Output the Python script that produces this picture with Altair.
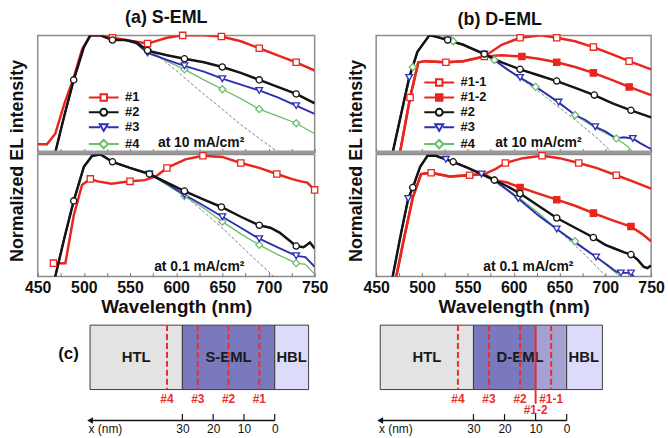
import altair as alt
import pandas as pd

FONT = "Liberation Sans"

# ---------------- (a) S-EML, 10 mA/cm2 ----------------
sa10_1_wl = [450, 460, 469, 479, 489, 498, 507, 518, 531, 545, 569, 590, 607, 630, 649, 670, 690, 710, 730, 750]
sa10_1_v = [0.07, 0.07, 0.16, 0.42, 0.64, 0.88, 1.0, 1.0, 0.98, 0.96, 0.93, 0.98, 1.0, 1.0, 0.99, 0.95, 0.89, 0.83, 0.77, 0.70]
sa10_1_mk = [531, 569, 607, 649, 690, 730]

sa10_2_wl = [460, 469, 479, 489, 500, 507, 518, 531, 545, 557, 569, 590, 609, 630, 650, 670, 690, 710, 730, 750]
sa10_2_v = [-0.3, 0.0, 0.32, 0.62, 0.90, 1.0, 1.0, 0.96, 0.96, 0.94, 0.87, 0.83, 0.80, 0.77, 0.73, 0.68, 0.62, 0.56, 0.50, 0.42]
sa10_2_mk = [489, 531, 569, 609, 650, 690, 730]

sa10_3_wl = [460, 469, 479, 489, 500, 507, 518, 531, 545, 557, 569, 590, 609, 630, 650, 670, 690, 710, 730, 750]
sa10_3_v = [-0.3, 0.0, 0.32, 0.62, 0.90, 1.0, 1.0, 0.97, 0.96, 0.93, 0.85, 0.79, 0.74, 0.69, 0.63, 0.58, 0.53, 0.47, 0.40, 0.33]
sa10_3_mk = [569, 609, 650, 690, 730]

sa10_4_wl = [460, 469, 479, 489, 500, 507, 518, 531, 545, 557, 569, 590, 609, 630, 650, 670, 690, 710, 730, 750]
sa10_4_v = [-0.3, 0.0, 0.32, 0.62, 0.90, 1.0, 1.0, 0.97, 0.96, 0.94, 0.88, 0.78, 0.71, 0.62, 0.54, 0.46, 0.37, 0.31, 0.25, 0.16]
sa10_4_mk = [569, 609, 650, 690, 730]

sa10_sim_wl = [569, 579, 600, 625, 650, 668, 690, 711, 720]
sa10_sim_v = [0.87, 0.83, 0.70, 0.53, 0.37, 0.25, 0.12, 0.0, -0.06]

# ---------------- (a) S-EML, 0.1 mA/cm2 ----------------
sa01_1_wl = [467, 480, 489, 498, 507, 515, 530, 550, 566, 578, 590, 610, 629, 650, 670, 690, 709, 725, 735, 742, 750]
sa01_1_v = [0.11, 0.11, 0.50, 0.75, 0.80, 0.78, 0.76, 0.78, 0.79, 0.82, 0.89, 0.96, 0.99, 0.98, 0.93, 0.89, 0.84, 0.80, 0.78, 0.77, 0.71]
sa01_1_mk = [467, 507, 550, 590, 629, 670, 709, 750]

sa01_2_wl = [460, 469, 479, 489, 500, 509, 518, 531, 550, 571, 590, 609, 630, 649, 670, 690, 702, 712, 730, 738, 745, 750]
sa01_2_v = [-0.3, 0.0, 0.32, 0.62, 0.90, 0.99, 1.0, 0.94, 0.89, 0.84, 0.77, 0.70, 0.63, 0.57, 0.49, 0.42, 0.40, 0.36, 0.25, 0.24, 0.28, 0.23]
sa01_2_mk = [489, 531, 571, 609, 649, 690, 730]

sa01_3_wl = [460, 469, 479, 489, 500, 509, 518, 531, 550, 571, 590, 609, 630, 650, 670, 690, 710, 730, 740, 750]
sa01_3_v = [-0.3, 0.0, 0.32, 0.62, 0.90, 0.99, 1.0, 0.94, 0.89, 0.84, 0.76, 0.67, 0.58, 0.49, 0.40, 0.31, 0.24, 0.17, 0.16, 0.08]
sa01_3_mk = [571, 609, 650, 690, 730]

sa01_4_wl = [460, 469, 479, 489, 500, 509, 518, 531, 550, 571, 590, 609, 630, 650, 670, 690, 710, 730, 740, 750]
sa01_4_v = [-0.3, 0.0, 0.32, 0.62, 0.90, 0.99, 1.0, 0.94, 0.89, 0.84, 0.75, 0.66, 0.56, 0.45, 0.35, 0.26, 0.18, 0.11, 0.10, 0.02]
sa01_4_mk = [571, 609, 650, 690, 730]

sa01_sim_wl = [571, 590, 611, 630, 654, 680, 703, 710]
sa01_sim_v = [0.84, 0.75, 0.65, 0.53, 0.37, 0.18, 0.02, -0.04]

# ---------------- (b) D-EML, 10 mA/cm2 ----------------
db10_11_wl = [466, 476, 487, 496, 504, 526, 545, 568, 587, 607, 630, 647, 667, 687, 707, 726, 750]
db10_11_v = [-0.3, 0.0, 0.47, 0.77, 0.78, 0.77, 0.78, 0.82, 0.92, 0.98, 1.0, 0.98, 0.95, 0.90, 0.84, 0.78, 0.71]
db10_11_mk = [487, 526, 568, 607, 647, 687, 726]

db10_12_wl = [466, 476, 487, 496, 504, 526, 545, 568, 587, 609, 627, 647, 667, 687, 707, 726, 750]
db10_12_v = [-0.3, 0.0, 0.47, 0.77, 0.78, 0.77, 0.78, 0.82, 0.83, 0.82, 0.80, 0.77, 0.73, 0.68, 0.62, 0.56, 0.49]
db10_12_mk = [609, 647, 687, 726]

db10_2_wl = [460, 468, 477, 486, 495, 508, 515, 528, 545, 568, 587, 607, 627, 647, 668, 688, 708, 728, 750]
db10_2_v = [-0.35, 0.0, 0.32, 0.64, 0.86, 1.0, 0.99, 0.96, 0.92, 0.84, 0.77, 0.71, 0.66, 0.61, 0.55, 0.49, 0.42, 0.36, 0.30]
db10_2_mk = [528, 568, 607, 647, 688, 728]

db10_3_wl = [460, 468, 477, 486, 495, 508, 515, 528, 545, 568, 579, 593, 607, 624, 636, 649, 667, 678, 689, 700, 712, 720, 730, 738, 745, 750]
db10_3_v = [-0.35, 0.0, 0.32, 0.64, 0.86, 1.0, 0.99, 0.96, 0.92, 0.84, 0.79, 0.71, 0.64, 0.56, 0.50, 0.43, 0.32, 0.28, 0.22, 0.18, 0.12, 0.13, 0.12, 0.08, 0.05, 0.03]
db10_3_mk = [486, 528, 568, 607, 649, 689, 730]

db10_4_wl = [460, 468, 477, 490, 495, 508, 515, 534, 545, 568, 579, 607, 624, 649, 667, 689, 712, 725, 735]
db10_4_v = [-0.35, 0.0, 0.32, 0.73, 0.86, 1.0, 0.99, 0.95, 0.92, 0.84, 0.79, 0.63, 0.56, 0.42, 0.32, 0.21, 0.12, 0.05, -0.05]
db10_4_mk = [490, 534, 579, 624, 667, 712]

db10_sim_wl = [568, 600, 624, 647, 670, 690, 705, 712]
db10_sim_v = [0.84, 0.67, 0.54, 0.40, 0.26, 0.13, 0.02, -0.04]

# ---------------- (b) D-EML, 0.1 mA/cm2 ----------------
db01_11_wl = [466, 472, 480, 490, 499, 510, 530, 552, 568, 580, 591, 610, 631, 650, 671, 690, 712, 730, 750]
db01_11_v = [-0.3, 0.0, 0.30, 0.65, 0.84, 0.85, 0.82, 0.83, 0.84, 0.88, 0.93, 0.97, 0.99, 0.97, 0.93, 0.89, 0.83, 0.78, 0.72]
db01_11_mk = [510, 552, 591, 631, 671, 712]

db01_12_wl = [466, 472, 480, 490, 499, 510, 530, 552, 568, 579, 593, 607, 627, 647, 667, 687, 708, 728, 740, 750]
db01_12_v = [-0.3, 0.0, 0.30, 0.65, 0.84, 0.85, 0.82, 0.83, 0.84, 0.79, 0.77, 0.73, 0.68, 0.63, 0.58, 0.52, 0.46, 0.41, 0.35, 0.29]
db01_12_mk = [607, 647, 687, 728]

db01_2_wl = [460, 468, 477, 485, 490, 498, 506, 515, 526, 534, 550, 565, 579, 593, 607, 627, 647, 667, 687, 700, 710, 720, 728, 735, 742, 746, 750]
db01_2_v = [-0.35, 0.0, 0.35, 0.64, 0.73, 0.90, 0.99, 0.99, 0.96, 0.94, 0.89, 0.84, 0.79, 0.74, 0.68, 0.58, 0.48, 0.40, 0.32, 0.26, 0.23, 0.20, 0.18, 0.14, 0.08, 0.07, 0.09]
db01_2_mk = [490, 534, 579, 607, 647, 687, 728]

db01_3_wl = [460, 468, 477, 485, 490, 498, 506, 515, 526, 534, 550, 565, 579, 593, 605, 627, 647, 667, 690, 703, 712, 717, 728, 733, 740]
db01_3_v = [-0.35, 0.0, 0.35, 0.64, 0.73, 0.90, 0.99, 0.99, 0.96, 0.94, 0.89, 0.84, 0.79, 0.71, 0.64, 0.50, 0.39, 0.28, 0.16, 0.09, 0.04, 0.03, 0.03, -0.02, -0.1]
db01_3_mk = [485, 526, 565, 605, 647, 690, 717, 728]

db01_4_wl = [460, 468, 477, 485, 490, 498, 506, 515, 526, 534, 550, 565, 579, 605, 627, 647, 667, 690, 705, 715, 722]
db01_4_v = [-0.35, 0.0, 0.35, 0.64, 0.73, 0.90, 0.99, 0.99, 0.96, 0.94, 0.89, 0.84, 0.79, 0.65, 0.52, 0.39, 0.29, 0.16, 0.07, 0.01, -0.05]
db01_4_mk = [490, 534, 579, 605, 667]

db01_sim_wl = [565, 605, 627, 647, 675, 701, 706]
db01_sim_v = [0.84, 0.65, 0.52, 0.39, 0.20, 0.0, -0.04]

WL_TICKS = [450, 475, 500, 525, 550, 575, 600, 625, 650, 675, 700, 725, 750]
S_NAMES = ["#1", "#2", "#3", "#4"]
D_NAMES = ["#1-1", "#1-2", "#2", "#3", "#4"]
NOTE_10 = "at 10 mA/cm\u00b2"
NOTE_01 = "at 0.1 mA/cm\u00b2"

# ---------------- (c) device diagrams ----------------
s_rect_ids = ["HTL", "S-EML", "HBL"]
s_rect_x0 = [60, 30, 0]
s_rect_x1 = [30, 0, -11]
s_lab_names = ["HTL", "S-EML", "HBL"]
s_lab_x = [45, 15, -5.5]
s_pos_names = ["#4", "#3", "#2", "#1"]
s_pos_x = [35, 25, 15, 5]

d_rect_ids = ["HTL", "D-EML outer", "D-EML inner", "HBL"]
d_rect_x0 = [60, 30, 10, 0]
d_rect_x1 = [30, 10, 0, -11.5]
d_lab_names = ["HTL", "D-EML", "HBL"]
d_lab_x = [45, 15, -5.5]
d_pos_names = ["#4", "#3", "#2", "#1-2", "#1-1"]
d_pos_x = [35, 25, 15, 10, 5]

x_ticks = [0, 10, 20, 30]
arrow_from = 60

# ---------------- styles ----------------
RED = "#e8261f"
STYLE = {
    "#1": dict(color=RED, width=2.5, shape="square", fill="white", size=40),
    "#1-1": dict(color=RED, width=2.5, shape="square", fill="white", size=40),
    "#1-2": dict(color=RED, width=2.5, shape="square", fill=RED, size=40),
    "#2": dict(color="#141414", width=2.5, shape="circle", fill="white", size=40),
    "#3": dict(color="#2e2eb4", width=1.9, shape="triangle-down", fill="white", size=45),
    "#4": dict(color="#6cbd6c", width=1.3, shape="diamond", fill="white", size=50),
    "sim": dict(color="#707070", width=0.9, dash=[3, 2]),
}
LEG_PATH = {
    "square": "M-3,0H-0.65M0.65,0H3M-0.65,-0.65H0.65V0.65H-0.65Z",
    "circle": "M-3,0H-0.7M0.7,0H3M0.7,0A0.7,0.7 0 1,1 -0.7,0A0.7,0.7 0 1,1 0.7,0Z",
    "triangle-down": "M-3,0H-0.75M0.75,0H3M-0.8,-0.6L0.8,-0.6L0,0.75Z",
    "diamond": "M-3,0H-0.85M0.85,0H3M-0.85,0L0,-0.85L0.85,0L0,0.85Z",
}
DRAW_ORDER = ["sim", "#4", "#3", "#1", "#1-2", "#1-1", "#2"]


def panel(series, legend_names, width, height, top, note_text, note_wl, note_v,
          title=None, title_dx=0, legend_xy=None):
    rows = []
    for name, wl, v, mk in series:
        for a, b in zip(wl, v):
            rows.append({"series": name, "wl": a, "v": b, "mk": a in mk})
    df = pd.DataFrame(rows)

    xs = alt.Scale(domain=[450, 750], nice=False, zero=False)
    ys = alt.Scale(domain=[0, 1], nice=False, zero=False)
    if top:
        xa = alt.Axis(values=WL_TICKS, title=None, labels=False, domain=False, grid=False,
                      ticks=True, tickSize=4, tickColor="#777777", tickWidth=1, offset=-4)
        ya = alt.Axis(title="Normalized EL intensity", labels=False, ticks=False, domain=False,
                      grid=False, titleFont=FONT, titleFontSize=18, titleFontWeight="bold",
                      titleColor="#111111", titleX=-20, titleY=height + 8, titleAngle=270,
                      titleAlign="center", titleBaseline="middle")
    else:
        xa = alt.Axis(values=WL_TICKS, title="Wavelength (nm)", format="d", grid=False,
                      domain=False, ticks=True, tickSize=4, tickColor="#777777", tickWidth=1,
                      offset=-4, labelExpr="datum.value % 50 == 0 ? datum.label : ''",
                      labelFlush=False, labelOverlap=False,
                      labelFont=FONT, labelFontSize=16, labelFontWeight="bold",
                      labelColor="#111111", labelPadding=3, titleFont=FONT, titleFontSize=19,
                      titleFontWeight="bold", titleColor="#111111", titlePadding=2)
        ya = None
    X = alt.X("wl:Q", scale=xs, axis=xa)
    Y = alt.Y("v:Q", scale=ys, axis=ya)

    present = [s[0] for s in series]
    layers = []
    for name in DRAW_ORDER:
        if name not in present:
            continue
        st = STYLE[name]
        kw = dict(color=st["color"], strokeWidth=st["width"], clip=True)
        if "dash" in st:
            kw["strokeDash"] = st["dash"]
        layers.append(alt.Chart(df).transform_filter(alt.datum.series == name)
                      .mark_line(**kw).encode(x=X, y=Y))
    for name in DRAW_ORDER:
        if name not in present or name == "sim":
            continue
        st = STYLE[name]
        layers.append(alt.Chart(df)
                      .transform_filter((alt.datum.series == name) & alt.datum.mk)
                      .mark_point(filled=True, shape=st["shape"], size=st["size"],
                                  fill=st["fill"], stroke=st["color"], strokeWidth=1.3,
                                  opacity=1)
                      .encode(x=X, y=Y))
    if legend_xy is not None:
        leg = alt.Legend(title=None, orient="none", legendX=legend_xy[0], legendY=legend_xy[1],
                         labelFont=FONT, labelFontSize=13, labelFontWeight="bold",
                         labelColor="#111111", symbolSize=100, symbolStrokeWidth=2,
                         labelOffset=15, rowPadding=0, padding=0)
        ln = legend_names
        layers.append(alt.Chart(df).transform_filter("false")
                      .mark_point(filled=False, opacity=1)
                      .encode(x=X, y=Y,
                              color=alt.Color("series:N", scale=alt.Scale(domain=ln, range=[STYLE[n]["color"] for n in ln]), legend=leg),
                              fill=alt.Fill("series:N", scale=alt.Scale(domain=ln, range=[STYLE[n]["fill"] for n in ln]), legend=leg),
                              shape=alt.Shape("series:N", scale=alt.Scale(domain=ln, range=[LEG_PATH[STYLE[n]["shape"]] for n in ln]), legend=leg)))
    note_df = pd.DataFrame({"wl": [note_wl], "v": [note_v], "t": [note_text]})
    layers.append(alt.Chart(note_df).mark_text(font=FONT, fontSize=14, fontWeight="bold",
                                               color="#111111")
                  .encode(x=X, y=Y, text="t:N"))
    if top:
        layers.append(alt.Chart(pd.DataFrame({"v": [0.0]}))
                      .mark_rule(color="#9a9a9a", strokeWidth=4).encode(y=Y))
    props = dict(width=width, height=height)
    if title:
        props["title"] = alt.TitleParams(title, font=FONT, fontSize=18, fontWeight="bold",
                                         color="#111111", offset=3, dx=title_dx)
    return alt.layer(*layers).properties(**props)


def diagram(rect_ids, rect_x0, rect_x1, rect_colors, lab_names, lab_x, pos_names, pos_x,
            solid, xdom, width, show_c):
    xs = alt.Scale(domain=xdom, nice=False, zero=False)
    ys = alt.Scale(domain=[-0.48, 1.723], nice=False, zero=False)
    xa = alt.Axis(values=x_ticks, title=None, grid=False, domain=False, ticks=False,
                  labelFont=FONT, labelFontSize=12, labelColor="#111111", labelPadding=3,
                  labelFlush=False)
    rect_df = pd.DataFrame({"id": rect_ids, "x0": rect_x0, "x1": rect_x1})
    lab_df = pd.DataFrame({"name": lab_names, "x": lab_x})
    pos_df = pd.DataFrame({"name": pos_names, "x": pos_x, "solid": [n == solid for n in pos_names]})
    tick_df = pd.DataFrame({"t": x_ticks})
    arr_df = pd.DataFrame({"a": [arrow_from], "b": [0]})

    def Xf(f):
        return alt.X(f, scale=xs, axis=xa)

    def Yd(d):
        return alt.Y(datum=d, scale=ys, axis=None)

    red = "#e8302a"
    layers = [
        alt.Chart(rect_df).mark_rect(stroke="#3c3c3c", strokeWidth=1).encode(
            x=Xf("x0:Q"), x2="x1:Q", y=Yd(1.0), y2=alt.Y2(datum=0.0),
            color=alt.Color("id:N", scale=alt.Scale(domain=rect_ids, range=rect_colors), legend=None)),
        alt.Chart(lab_df).mark_text(font=FONT, fontSize=15, fontWeight="bold", color="#1a1a1a")
        .encode(x=Xf("x:Q"), y=Yd(0.5), text="name:N"),
        alt.Chart(pos_df).transform_filter("!datum.solid")
        .mark_rule(color=red, strokeWidth=2, strokeDash=[6, 3])
        .encode(x=Xf("x:Q"), y=Yd(1.0), y2=alt.Y2(datum=0.0)),
        alt.Chart(pos_df).transform_filter("datum.solid")
        .mark_rule(color=red, strokeWidth=2)
        .encode(x=Xf("x:Q"), y=Yd(1.0), y2=alt.Y2(datum=-0.22)),
        alt.Chart(pos_df).transform_filter("!datum.solid")
        .mark_text(font=FONT, fontSize=12, fontWeight="bold", color=red)
        .encode(x=Xf("x:Q"), y=Yd(-0.14), text="name:N"),
        alt.Chart(pos_df).transform_filter("datum.solid")
        .mark_text(font=FONT, fontSize=12, fontWeight="bold", color=red)
        .encode(x=Xf("x:Q"), y=Yd(-0.32), text="name:N"),
        alt.Chart(arr_df).mark_rule(color="#111111", strokeWidth=1.5)
        .encode(x=Xf("a:Q"), x2="b:Q", y=Yd(-0.48)),
        alt.Chart(arr_df).mark_point(shape="triangle-left", filled=True, color="#111111",
                                     size=45, opacity=1)
        .encode(x=Xf("a:Q"), y=Yd(-0.48)),
        alt.Chart(tick_df).mark_rule(color="#111111", strokeWidth=1.2)
        .encode(x=Xf("t:Q"), y=Yd(-0.48), y2=alt.Y2(datum=-0.38)),
        alt.Chart(arr_df).mark_text(font=FONT, fontSize=12, color="#111111")
        .encode(x=alt.X(datum=55, scale=xs, axis=xa), y=Yd(-0.62), text=alt.value("x (nm)")),
    ]
    if show_c:
        layers.append(alt.Chart(arr_df).mark_text(font=FONT, fontSize=17, fontWeight="bold",
                                                  color="#111111")
                      .encode(x=alt.X(datum=67, scale=xs, axis=xa), y=Yd(0.55),
                              text=alt.value("(c)")))
    return alt.layer(*layers).properties(width=width, height=143,
                                         view=alt.ViewBackground(stroke="transparent"))


W_L, W_R, H_T, H_B = 279, 277, 118, 123

tl = panel([("#1", sa10_1_wl, sa10_1_v, sa10_1_mk), ("#2", sa10_2_wl, sa10_2_v, sa10_2_mk),
            ("#3", sa10_3_wl, sa10_3_v, sa10_3_mk), ("#4", sa10_4_wl, sa10_4_v, sa10_4_mk),
            ("sim", sa10_sim_wl, sa10_sim_v, [])],
           S_NAMES, W_L, H_T, True, NOTE_10, 627, 0.08, title="(a) S-EML", title_dx=-10,
           legend_xy=(60, 56))
bl = panel([("#1", sa01_1_wl, sa01_1_v, sa01_1_mk), ("#2", sa01_2_wl, sa01_2_v, sa01_2_mk),
            ("#3", sa01_3_wl, sa01_3_v, sa01_3_mk), ("#4", sa01_4_wl, sa01_4_v, sa01_4_mk),
            ("sim", sa01_sim_wl, sa01_sim_v, [])],
           S_NAMES, W_L, H_B, False, NOTE_01, 625, 0.08)
tr = panel([("#1-1", db10_11_wl, db10_11_v, db10_11_mk), ("#1-2", db10_12_wl, db10_12_v, db10_12_mk),
            ("#2", db10_2_wl, db10_2_v, db10_2_mk), ("#3", db10_3_wl, db10_3_v, db10_3_mk),
            ("#4", db10_4_wl, db10_4_v, db10_4_mk), ("sim", db10_sim_wl, db10_sim_v, [])],
           D_NAMES, W_R, H_T, True, NOTE_10, 627, 0.08, title="(b) D-EML", title_dx=-14,
           legend_xy=(57, 41))
br = panel([("#1-1", db01_11_wl, db01_11_v, db01_11_mk), ("#1-2", db01_12_wl, db01_12_v, db01_12_mk),
            ("#2", db01_2_wl, db01_2_v, db01_2_mk), ("#3", db01_3_wl, db01_3_v, db01_3_mk),
            ("#4", db01_4_wl, db01_4_v, db01_4_mk), ("sim", db01_sim_wl, db01_sim_v, [])],
           D_NAMES, W_R, H_B, False, NOTE_01, 616, 0.08)

dl = diagram(s_rect_ids, s_rect_x0, s_rect_x1, ["#e3e3e3", "#7b79bd", "#dcdcfa"],
             s_lab_names, s_lab_x, s_pos_names, s_pos_x, None, [77, -12], 276, True)
dr = diagram(d_rect_ids, d_rect_x0, d_rect_x1, ["#e3e3e3", "#7b79bd", "#a3a2d3", "#dcdcfa"],
             d_lab_names, d_lab_x, d_pos_names, d_pos_x, "#1-2", [61.3, -12.8], 232, False)

chart = (alt.concat(tl, tr, bl, br, dl, dr, columns=2,
                    spacing={"row": 2, "column": 62}, bounds="flush")
         .resolve_scale(color="independent", fill="independent", shape="independent",
                        x="independent", y="independent")
         .resolve_legend(color="independent", fill="independent", shape="independent")
         .properties(padding={"left": 8, "top": 6, "right": 2, "bottom": 2}, background="white")
         .configure(font=FONT)
         .configure_view(stroke="#8c8c8c", strokeWidth=1.5))

chart.save("out.html", embed_options={"renderer": "svg", "actions": False})
